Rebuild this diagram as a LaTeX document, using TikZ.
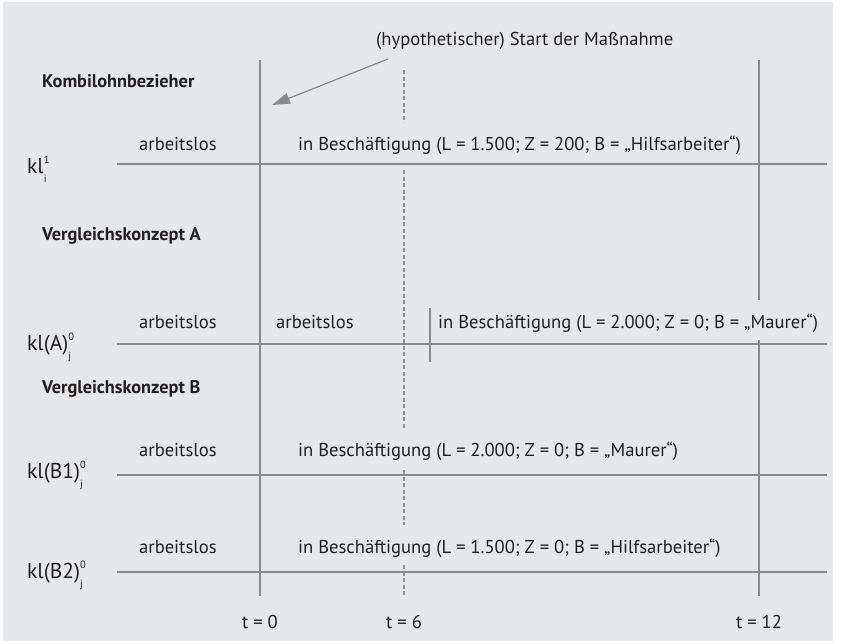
\documentclass[tikz,border=0pt]{standalone}
\usepackage{fontspec}
\setmainfont{PT Sans}
\usetikzlibrary{arrows.meta}
\definecolor{bggray}{HTML}{E6E7E8}
\definecolor{rulegray}{HTML}{8A8A8C}
\definecolor{dashgray}{HTML}{929294}
\definecolor{inkgray}{HTML}{231F20}
\newcommand{\kllabel}[3]{#1\rlap{\raisebox{0.43em}{\fontsize{10.5}{10}\selectfont #2}}\raisebox{-0.45em}{\fontsize{10.5}{10}\selectfont #3}}

\begin{document}
\begin{tikzpicture}[x=1pt, y=-1pt,
  font=\fontsize{18.6}{21}\selectfont, text=inkgray,
  state/.style={anchor=base west, inner sep=0pt},
  head/.style={anchor=base west, inner sep=0pt, font=\fontsize{18.3}{21}\selectfont\bfseries},
  rowlbl/.style={anchor=base west, inner sep=0pt, font=\fontsize{21.5}{24}\selectfont},
  tlbl/.style={anchor=base, inner sep=0pt},
  rule/.style={draw=rulegray, line width=1.3pt},
  startline/.style={draw=dashgray, line width=1.2pt, dash pattern=on 4pt off 2.5pt},
  >={Triangle[length=18pt, width=11pt]}]
% background
\fill[white] (0,0) rectangle (841,643);
\fill[bggray] (3,2) rectangle (833,641);
\useasboundingbox (0,0) rectangle (841,643);

% time axis
\foreach \y in {164,344,475,572}
  \draw[rule] (117,\y) -- (827,\y);
\draw[rule] (260,60) -- (260,596);
\draw[rule] (759,60) -- (759,300) (759,340) -- (759,596);
\draw[rule] (430,308) -- (430,362);
\draw[startline] (404,70) -- (404,122) (404,170) -- (404,428)
  (404,470) -- (404,525) (404,565) -- (404,596);

% start of the measure
\node[state] (start) at (376,45) {(hypothetischer) Start der Maßnahme};
\coordinate (arrtail) at (388,59);
\coordinate (arrtip) at (272,105);
\draw[rule, line width=1.2pt, ->, fill=rulegray] (arrtail) -- (arrtip);

% Kombilohnbezieher
\node[head] (kombi) at (42,87) {Kombilohnbezieher};
\node[state] (k-al) at (139,150) {arbeitslos};
\node[state] (k-job) at (298,150) {in Beschäftigung (L = 1.500; Z = 200; B = „Hilfsarbeiter“)};
\node[rowlbl] (k-lbl) at (27,173) {\kllabel{kl}{1}{i}};

% Vergleichskonzept A
\node[head] (vka) at (42,240) {Vergleichskonzept A};
\node[state] (a-al1) at (139,328) {arbeitslos};
\node[state] (a-al2) at (276,328) {arbeitslos};
\node[state] (a-job) at (438,328) {in Beschäftigung (L = 2.000; Z = 0; B = „Maurer“)};
\node[rowlbl] (a-lbl) at (27,350) {\kllabel{kl(A)}{0}{j}};

% Vergleichskonzept B
\node[head] (vkb) at (42,393) {Vergleichskonzept B};
\node[state] (b1-al) at (139,456) {arbeitslos};
\node[state] (b1-job) at (298,456) {in Beschäftigung (L = 2.000; Z = 0; B = „Maurer“)};
\node[rowlbl] (b1-lbl) at (27,478) {\kllabel{kl(B1)}{0}{j}};
\node[state] (b2-al) at (139,553) {arbeitslos};
\node[state] (b2-job) at (298,553) {in Beschäftigung (L = 1.500; Z = 0; B = „Hilfsarbeiter“)};
\node[rowlbl] (b2-lbl) at (27,578) {\kllabel{kl(B2)}{0}{j}};

% time marks
\node[tlbl] (t0) at (260,628) {t = 0};
\node[tlbl] (t6) at (404,628) {t = 6};
\node[tlbl] (t12) at (759,628) {t = 12};
\end{tikzpicture}
\end{document}
